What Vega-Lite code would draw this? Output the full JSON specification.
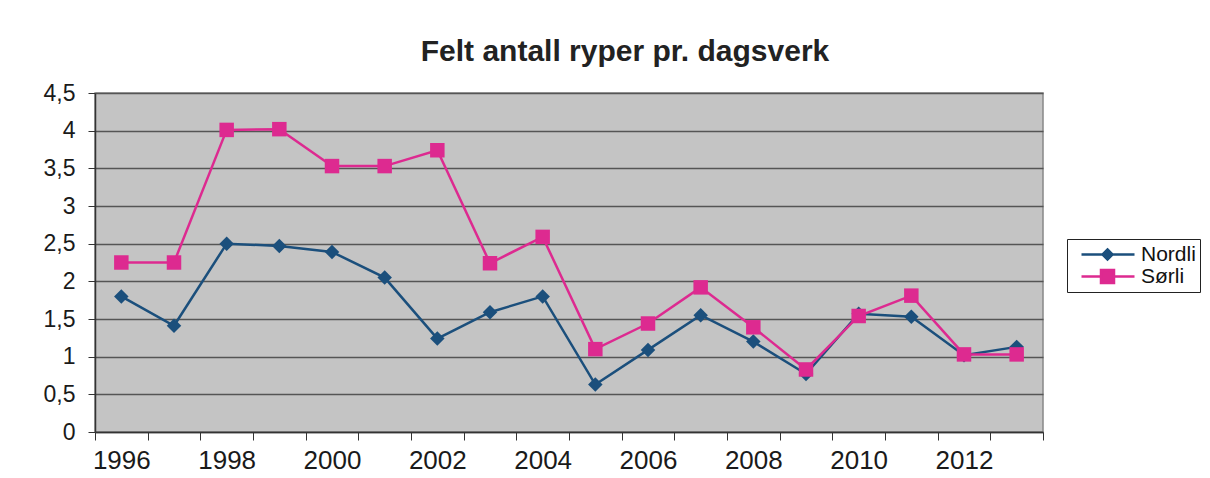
{
  "$schema": "https://vega.github.io/schema/vega-lite/v6.json",
  "width": 948,
  "height": 339,
  "autosize": "none",
  "padding": {"left": 95, "top": 93, "right": 167, "bottom": 46},
  "background": "white",
  "title": {
    "text": "Felt antall ryper pr. dagsverk",
    "font": "Liberation Sans",
    "fontSize": 30,
    "fontWeight": "bold",
    "color": "#222222",
    "anchor": "middle",
    "frame": "group",
    "baseline": "alphabetic",
    "dx": 56,
    "offset": -9
  },
  "data": {
    "values": [
      {"year": 1996, "series": "Nordli", "value": 1.8},
      {"year": 1997, "series": "Nordli", "value": 1.41},
      {"year": 1998, "series": "Nordli", "value": 2.5},
      {"year": 1999, "series": "Nordli", "value": 2.47},
      {"year": 2000, "series": "Nordli", "value": 2.39},
      {"year": 2001, "series": "Nordli", "value": 2.05},
      {"year": 2002, "series": "Nordli", "value": 1.24},
      {"year": 2003, "series": "Nordli", "value": 1.59},
      {"year": 2004, "series": "Nordli", "value": 1.8},
      {"year": 2005, "series": "Nordli", "value": 0.63},
      {"year": 2006, "series": "Nordli", "value": 1.09},
      {"year": 2007, "series": "Nordli", "value": 1.55},
      {"year": 2008, "series": "Nordli", "value": 1.2},
      {"year": 2009, "series": "Nordli", "value": 0.77},
      {"year": 2010, "series": "Nordli", "value": 1.57},
      {"year": 2011, "series": "Nordli", "value": 1.53},
      {"year": 2012, "series": "Nordli", "value": 1.02},
      {"year": 2013, "series": "Nordli", "value": 1.13},
      {"year": 1996, "series": "Sørli", "value": 2.25},
      {"year": 1997, "series": "Sørli", "value": 2.25},
      {"year": 1998, "series": "Sørli", "value": 4.01},
      {"year": 1999, "series": "Sørli", "value": 4.02},
      {"year": 2000, "series": "Sørli", "value": 3.53},
      {"year": 2001, "series": "Sørli", "value": 3.53},
      {"year": 2002, "series": "Sørli", "value": 3.74},
      {"year": 2003, "series": "Sørli", "value": 2.24},
      {"year": 2004, "series": "Sørli", "value": 2.59},
      {"year": 2005, "series": "Sørli", "value": 1.1},
      {"year": 2006, "series": "Sørli", "value": 1.44},
      {"year": 2007, "series": "Sørli", "value": 1.92},
      {"year": 2008, "series": "Sørli", "value": 1.39},
      {"year": 2009, "series": "Sørli", "value": 0.83},
      {"year": 2010, "series": "Sørli", "value": 1.54},
      {"year": 2011, "series": "Sørli", "value": 1.81},
      {"year": 2012, "series": "Sørli", "value": 1.03},
      {"year": 2013, "series": "Sørli", "value": 1.03}
    ]
  },
  "encoding": {
    "x": {
      "field": "year",
      "type": "ordinal",
      "scale": {"type": "band", "paddingInner": 0, "paddingOuter": 0},
      "axis": {
        "title": null,
        "labelAngle": 0,
        "tickBand": "extent",
        "labelExpr": "datum.value % 2 == 0 ? datum.label : ''",
        "labelFont": "Liberation Sans",
        "labelFontSize": 26,
        "labelColor": "#1a1a1a",
        "labelPadding": 7,
        "tickSize": 8,
        "tickColor": "#333333",
        "domainColor": "#333333",
        "domainWidth": 1.5,
        "grid": false
      }
    },
    "y": {
      "field": "value",
      "type": "quantitative",
      "scale": {"domain": [0, 4.5], "nice": false},
      "axis": {
        "title": null,
        "values": [0, 0.5, 1, 1.5, 2, 2.5, 3, 3.5, 4, 4.5],
        "labelExpr": "replace(format(datum.value, '.1~f'), '.', ',')",
        "labelFont": "Liberation Sans",
        "labelFontSize": 23,
        "labelColor": "#1a1a1a",
        "labelPadding": 13,
        "tickSize": 7,
        "tickColor": "#333333",
        "domainColor": "#333333",
        "domainWidth": 1.5,
        "grid": true,
        "gridColor": "#555555",
        "gridWidth": 1.5,
        "gridOpacity": 1
      }
    }
  },
  "layer": [
    {
      "mark": {"type": "line", "strokeWidth": 2.5},
      "encoding": {
        "color": {
          "field": "series",
          "type": "nominal",
          "scale": {"domain": ["Nordli", "Sørli"], "range": ["#1b4f7c", "#dd2a90"]},
          "legend": {
            "title": null,
            "orient": "none",
            "legendX": 972,
            "legendY": 146,
            "padding": 4,
            "strokeColor": "#222222",
            "fillColor": "white",
            "labelFont": "Liberation Sans",
            "labelFontSize": 21,
            "labelColor": "#111111",
            "labelOffset": 47,
            "rowPadding": 0,
            "symbolSize": 400,
            "symbolStrokeWidth": 2.5,
            "encode": {
              "symbols": {
                "update": {
                  "shape": {"signal": "datum.value == 'Nordli' ? 'M-0.1,0H2M3,0H5.2M2.5,-0.5L3,0L2.5,0.5L2,0Z' : 'M-0.1,0H1.85M3.15,0H5.2M1.85,-0.65H3.15V0.65H1.85Z'"},
                  "fill": {"signal": "datum.value == 'Nordli' ? '#1b4f7c' : '#dd2a90'"},
                  "stroke": {"signal": "datum.value == 'Nordli' ? '#1b4f7c' : '#dd2a90'"},
                  "strokeWidth": {"value": 2.5},
                  "opacity": {"value": 1},
                  "fillOpacity": {"value": 1}
                }
              }
            }
          }
        }
      }
    },
    {
      "mark": {"type": "point", "filled": true, "opacity": 1, "size": 210},
      "encoding": {
        "detail": {"field": "series", "type": "nominal"},
        "color": {"condition": {"test": "datum.series == 'Nordli'", "value": "#1b4f7c"}, "value": "#dd2a90"},
        "shape": {"condition": {"test": "datum.series == 'Nordli'", "value": "diamond"}, "value": "square"}
      }
    }
  ],
  "config": {
    "view": {"fill": "#c4c4c4", "stroke": "#888888", "strokeWidth": 1.5}
  }
}
